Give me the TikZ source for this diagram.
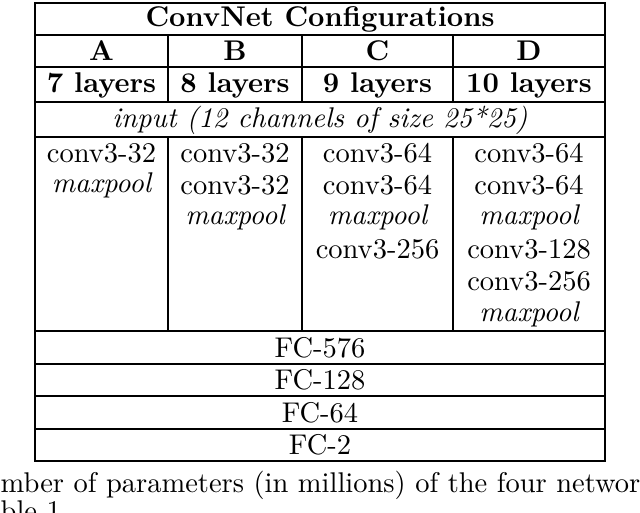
\documentclass[tikz,border=0pt]{standalone}
\begin{document}
\begin{tikzpicture}[x=1pt,y=-1pt,line width=1.2pt,
  every node/.style={font=\normalsize,inner sep=0pt,scale=2.85},
  bf/.style={font=\normalsize\bfseries},
  it/.style={font=\normalsize\itshape}]
\useasboundingbox (0,0) rectangle (640,512);
\draw (35,3) rectangle (605,461);
\foreach \y in {35,67,102,137,331,364,396,429} \draw (35,\y) -- (605,\y);
\foreach \x in {168,302,453} \draw (\x,35) -- (\x,102) (\x,137) -- (\x,331);
\node[bf] (t) at (320,19) {ConvNet Configurations};
\node[bf] (ha) at (101.5,51) {A};
\node[bf] (hb) at (235,51) {B};
\node[bf] (hc) at (377.5,51) {C};
\node[bf] (hd) at (529,51) {D};
\node[bf] (la) at (101.5,85) {7 layers};
\node[bf] (lb) at (235,85) {8 layers};
\node[bf] (lc) at (377.5,85) {9 layers};
\node[bf] (ld) at (529,85) {10 layers};
\node[it] (in) at (320,120) {input (12 channels of size 25*25)};
\node (a1) at (101.5,153) {conv3-32};
\node[it] (a2) at (101.5,185) {maxpool};
\node (b1) at (235,153) {conv3-32};
\node (b2) at (235,185) {conv3-32};
\node[it] (b3) at (235,217) {maxpool};
\node (c1) at (377.5,153) {conv3-64};
\node (c2) at (377.5,185) {conv3-64};
\node[it] (c3) at (377.5,217) {maxpool};
\node (c4) at (377.5,249) {conv3-256};
\node (d1) at (529,153) {conv3-64};
\node (d2) at (529,185) {conv3-64};
\node[it] (d3) at (529,217) {maxpool};
\node (d4) at (529,249) {conv3-128};
\node (d5) at (529,281) {conv3-256};
\node[it] (d6) at (529,314) {maxpool};
\node (f1) at (320,348) {FC-576};
\node (f2) at (320,380) {FC-128};
\node (f3) at (320,413) {FC-64};
\node (f4) at (320,445) {FC-2};
\node[anchor=base west] (cap1) at (-1,492) {mber of parameters (in millions) of the four network co};
\node[anchor=base west] (cap2) at (-1,520) {ble 1};
\end{tikzpicture}
\end{document}
